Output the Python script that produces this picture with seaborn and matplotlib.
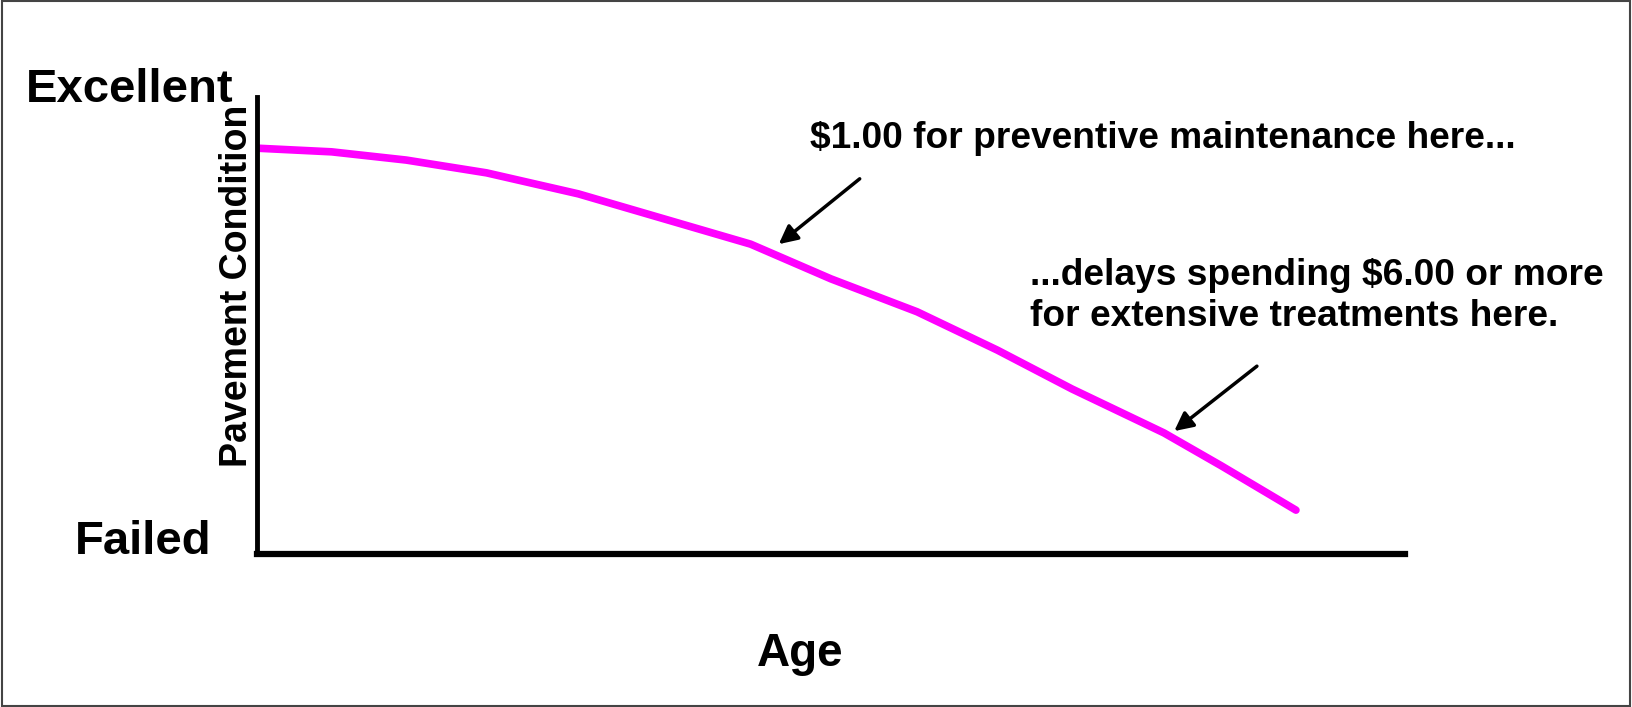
import matplotlib
matplotlib.use("Agg")
import matplotlib.pyplot as plt
import seaborn as sns
import pandas as pd
from matplotlib.patches import Rectangle

# curve (age in arbitrary units, condition 0=Failed .. 100=Excellent)
age = [0.0, 1.3, 2.6, 4.0, 5.6, 7.1, 8.6, 10.0, 11.5, 12.9, 14.2, 15.8, 16.8, 18.1]
condition = [88.8, 88.0, 86.2, 83.4, 78.8, 73.3, 67.8, 60.2, 53.0, 44.6, 36.1, 26.5, 19.3, 9.6]

note_pm = "\\$1.00 for preventive maintenance here..."
note_late = "...delays spending \\$6.00 or more\nfor extensive treatments here."

sns.set_style("white")
plt.rcParams['font.family'] = ['Liberation Sans', 'DejaVu Sans']
plt.rcParams['font.weight'] = 'bold'
plt.rcParams['text.color'] = 'black'

W, H = 1632, 707
fig = plt.figure(figsize=(W / 100, H / 100), dpi=100)
ax = fig.add_axes([257 / W, 1 - 554 / H, (1405 - 257) / W, (554 - 97) / H])

df = pd.DataFrame({"Age": age, "Condition": condition})
sns.lineplot(data=df, x="Age", y="Condition", ax=ax, color="#FF00FF", lw=5.5)

ax.set_xlim(0, 20)
ax.set_ylim(0, 100)
ax.set_xticks([])
ax.set_yticks([])
ax.set_xlabel("")
ax.set_ylabel("")
for s in ["top", "right"]:
    ax.spines[s].set_visible(False)
ax.spines["left"].set_linewidth(3.5)
ax.spines["bottom"].set_linewidth(4.5)
ax.spines["left"].set_color("black")
ax.spines["bottom"].set_color("black")

# arrows
arrow = dict(arrowstyle="-|>", lw=2.5, color="black", mutation_scale=28,
             shrinkA=0, shrinkB=0)
ax.annotate("", xy=(9.09, 67.8), xytext=(10.5, 82.1), arrowprops=arrow)
ax.annotate("", xy=(15.98, 26.9), xytext=(17.42, 41.1), arrowprops=arrow)

ax.text(9.63, 91.0, note_pm, fontsize=26.7, fontweight="bold",
        ha="left", va="center", color="black")
ax.text(13.47, 56.5, note_late, fontsize=26.7, fontweight="bold",
        ha="left", va="center", linespacing=1.23, color="black")

fig.text(234 / W, 1 - 90 / H, "Excellent", fontsize=34, fontweight="bold",
         ha="right", va="center", color="black")
fig.text(211 / W, 1 - 542 / H, "Failed", fontsize=34, fontweight="bold",
         ha="right", va="center", color="black")
fig.text(800 / W, 1 - 654 / H, "Age", fontsize=33, fontweight="bold",
         ha="center", va="center", color="black")
fig.text(237 / W, 1 - 286 / H, "Pavement Condition", fontsize=27, fontweight="bold",
         rotation=90, ha="center", va="center", color="black")

# thin frame around the whole slide
fig.patches.append(Rectangle((0.001, 0.002), 0.998, 0.996, transform=fig.transFigure,
                             fill=False, edgecolor="#444444", lw=1.5))

fig.savefig("out.png", dpi=100)
